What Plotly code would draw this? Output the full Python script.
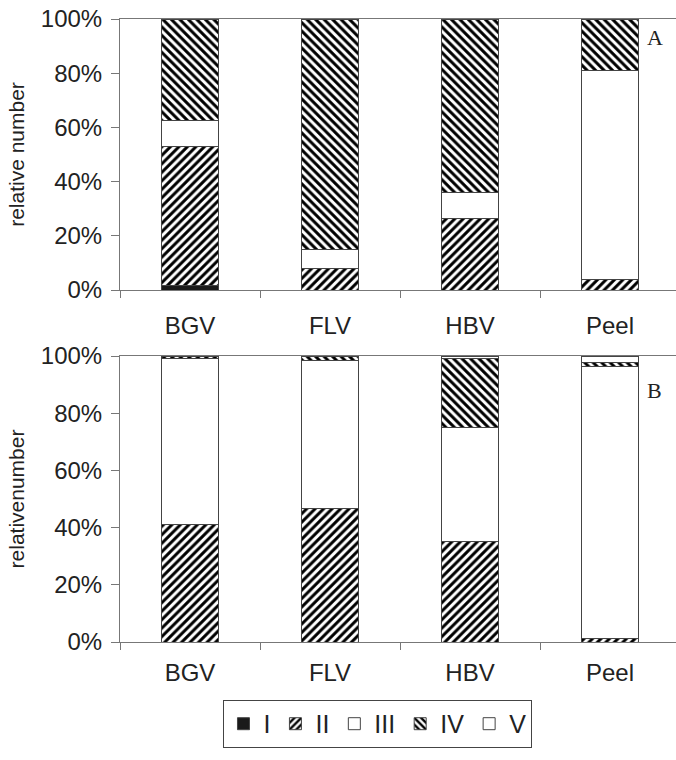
import plotly.graph_objects as go
from plotly.subplots import make_subplots

categories = ["BGV", "FLV", "HBV", "Peel"]
series_names = ["I", "II", "III", "IV", "V"]

# Panel A (relative number, %)
a_I = [1.6, 0.0, 0.0, 0.0]
a_II = [51.3, 8.1, 26.5, 3.7]
a_III = [9.5, 6.7, 9.3, 77.2]
a_IV = [37.6, 85.2, 64.2, 19.1]
a_V = [0.0, 0.0, 0.0, 0.0]

# Panel B (relative number, %)
b_I = [0.0, 0.0, 0.0, 0.0]
b_II = [41.2, 46.7, 35.1, 1.3]
b_III = [58.0, 51.9, 40.0, 95.0]
b_IV = [0.8, 1.4, 24.2, 1.4]
b_V = [0.0, 0.0, 0.7, 2.3]

y_ticks = [0, 20, 40, 60, 80, 100]
y_tick_labels = ["0%", "20%", "40%", "60%", "80%", "100%"]

styles = {
    "I": dict(color="#1a1a1a", pattern=None),
    "II": dict(color="white", pattern=dict(shape="/", fgcolor="#000000", bgcolor="white",
                                           fgopacity=1, size=6, solidity=0.5)),
    "III": dict(color="white", pattern=None),
    "IV": dict(color="white", pattern=dict(shape="\\", fgcolor="#000000", bgcolor="white",
                                           fgopacity=1, size=6, solidity=0.5)),
    "V": dict(color="white", pattern=None),
}

fig = make_subplots(rows=2, cols=1, vertical_spacing=0.1)

panel_a = [a_I, a_II, a_III, a_IV, a_V]
panel_b = [b_I, b_II, b_III, b_IV, b_V]

for row, data in ((1, panel_a), (2, panel_b)):
    for name, vals in zip(series_names, data):
        st = styles[name]
        marker = dict(color=st["color"], line=dict(color="#444444", width=1))
        if st["pattern"] is not None:
            marker["pattern"] = st["pattern"]
        fig.add_trace(
            go.Bar(
                x=categories, y=vals, name=name, marker=marker,
                showlegend=(row == 1), legendgroup=name,
            ),
            row=row, col=1,
        )

fig.update_layout(
    barmode="stack",
    bargap=0.59,
    width=676, height=760,
    margin=dict(l=120, r=0, t=19, b=118),
    plot_bgcolor="white", paper_bgcolor="white",
    font=dict(family="Liberation Sans, Arial, sans-serif", size=24, color="#222222"),
    legend=dict(
        orientation="h", x=0.464, xanchor="center", y=-0.093, yanchor="top",
        bordercolor="#444444", borderwidth=1, font=dict(size=25),
        itemwidth=30, tracegroupgap=0,
    ),
)

top_dom = [(642 - 290) / 623, 1.0]
bot_dom = [0.0, (642 - 356) / 623]

for ax_y, dom in (("yaxis", top_dom), ("yaxis2", bot_dom)):
    fig.layout[ax_y].update(
        domain=dom, range=[0, 100], tickvals=y_ticks, ticktext=y_tick_labels,
        showgrid=False, showline=True, linecolor="#777777", linewidth=1,
        ticks="outside", ticklen=8, tickcolor="#777777", zeroline=False,
        ticklabelstandoff=4, tickfont=dict(size=24),
        title=dict(text="relative number" if ax_y == "yaxis" else "relativenumber",
                   font=dict(size=21), standoff=10),
    )

for ax_x, so in (("xaxis", 14), ("xaxis2", 9)):
    fig.layout[ax_x].update(
        range=[-0.5, -0.5 + 556 / 140], showgrid=False,
        showline=True, linecolor="#777777", linewidth=1, mirror=True,
        ticks="outside", tickson="boundaries", ticklen=7, tickcolor="#777777",
        tickfont=dict(size=24), ticklabelstandoff=so,
    )

serif = dict(family="Liberation Serif, Times New Roman, serif", size=22, color="#222222")
fig.add_annotation(text="A", xref="x domain", yref="y domain", x=0.962, y=0.93,
                   xanchor="center", yanchor="middle", showarrow=False, font=serif)
fig.add_annotation(text="B", xref="x2 domain", yref="y2 domain", x=0.962, y=0.881,
                   xanchor="center", yanchor="middle", showarrow=False, font=serif)

fig.write_html("out.html")
